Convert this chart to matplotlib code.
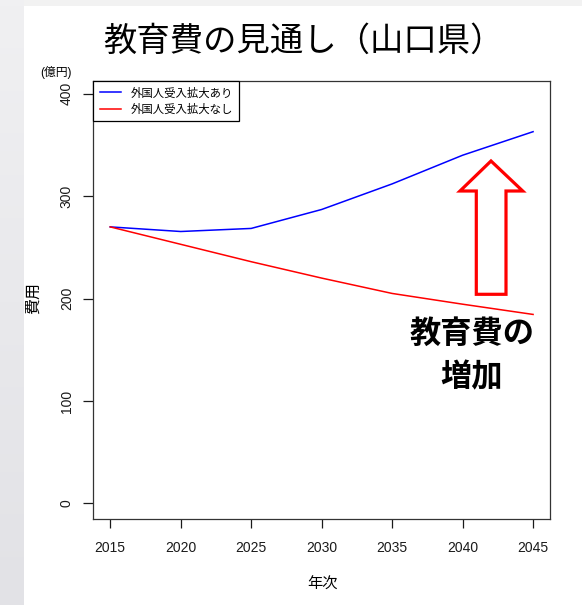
import numpy as np
import matplotlib
matplotlib.use("Agg")
import matplotlib.pyplot as plt
from matplotlib.patches import Polygon, Rectangle

plt.rcParams['font.family'] = ['Liberation Sans', 'Noto Sans CJK JP', 'DejaVu Sans']

# データ
years = [2015, 2020, 2025, 2030, 2035, 2040, 2045]
with_foreign = [270, 265.5, 268.5, 287, 312, 340, 363]
without_foreign = [270, 253, 236, 220, 205, 194.5, 184.5]
labels = ['外国人受入拡大あり', '外国人受入拡大なし']
yticks = [0, 100, 200, 300, 400]

W, H = 582, 605
fig = plt.figure(figsize=(W / 100, H / 100), dpi=100)
fig.patch.set_facecolor('white')


def px(x, y):
    # ピクセル座標 -> figure座標
    return (x / W, 1 - y / H)


# 背景の灰色の帯
bg = fig.add_axes([0, 0, 24 / W, 1])
grad = np.linspace(0, 1, 100).reshape(-1, 1)
bg.imshow(grad, aspect='auto', cmap=matplotlib.colors.LinearSegmentedColormap.from_list(
    'g', ['#f0f0f2', '#e2e2e6']), extent=[0, 1, 0, 1], origin='upper')
bg.axis('off')
fig.patches.append(Rectangle(px(24, 6), 1, 1, transform=fig.transFigure,
                             facecolor='#f2f2f2', edgecolor='none', zorder=-1))

ax = fig.add_axes([93.3 / W, 1 - 519.3 / H, (550 - 93.3) / W, (519.3 - 81) / H])
ax.plot(years, with_foreign, color='blue', lw=1.1, label=labels[0])
ax.plot(years, without_foreign, color='red', lw=1.1, label=labels[1])

ax.set_xlim(2013.8, 2046.2)
ax.set_ylim(-15.6, 412.5)
ax.set_xticks(years)
ax.set_yticks(yticks)
ax.tick_params(axis='x', length=6.5, width=0.9, pad=9, labelsize=10, colors='#1a1a1a')
ax.tick_params(axis='y', length=7, width=0.9, pad=7, labelsize=10, colors='#1a1a1a')
for t in ax.get_yticklabels():
    t.set_rotation(90)
    t.set_va('center')
for s in ax.spines.values():
    s.set_color('#333333')
    s.set_linewidth(0.9)

leg = ax.legend(loc='upper left', bbox_to_anchor=(0, 1), borderaxespad=0,
                fancybox=False, edgecolor='black', fontsize=8.2, handlelength=1.9,
                handletextpad=0.8, labelspacing=0.45, borderpad=0.55, framealpha=1)
leg.get_frame().set_linewidth(0.9)

fig.text(*px(322, 585), '年次', ha='center', va='center', fontsize=11)
fig.text(*px(33, 298), '費用', ha='center', va='center', fontsize=11.5, rotation=90)
fig.text(*px(56, 72), '(億円)', ha='center', va='center', fontsize=8.5)

fig.text(*px(304, 42), '教育費の見通し（山口県）', ha='center', va='center', fontsize=24)

# 増加を示す矢印
arrow_pts = [(491, 161), (522.7, 191), (506, 191), (506, 294.3),
             (476.3, 294.3), (476.3, 191), (460, 191)]
fig.patches.append(Polygon([px(x, y) for x, y in arrow_pts], closed=True,
                           transform=fig.transFigure, facecolor='white',
                           edgecolor='red', lw=2.3, joinstyle='miter'))

fig.text(*px(472, 335), '教育費の', ha='center', va='center', fontsize=22.5, fontweight='bold')
fig.text(*px(472, 378), '増加', ha='center', va='center', fontsize=22.5, fontweight='bold')

fig.savefig('out.png', dpi=100)
